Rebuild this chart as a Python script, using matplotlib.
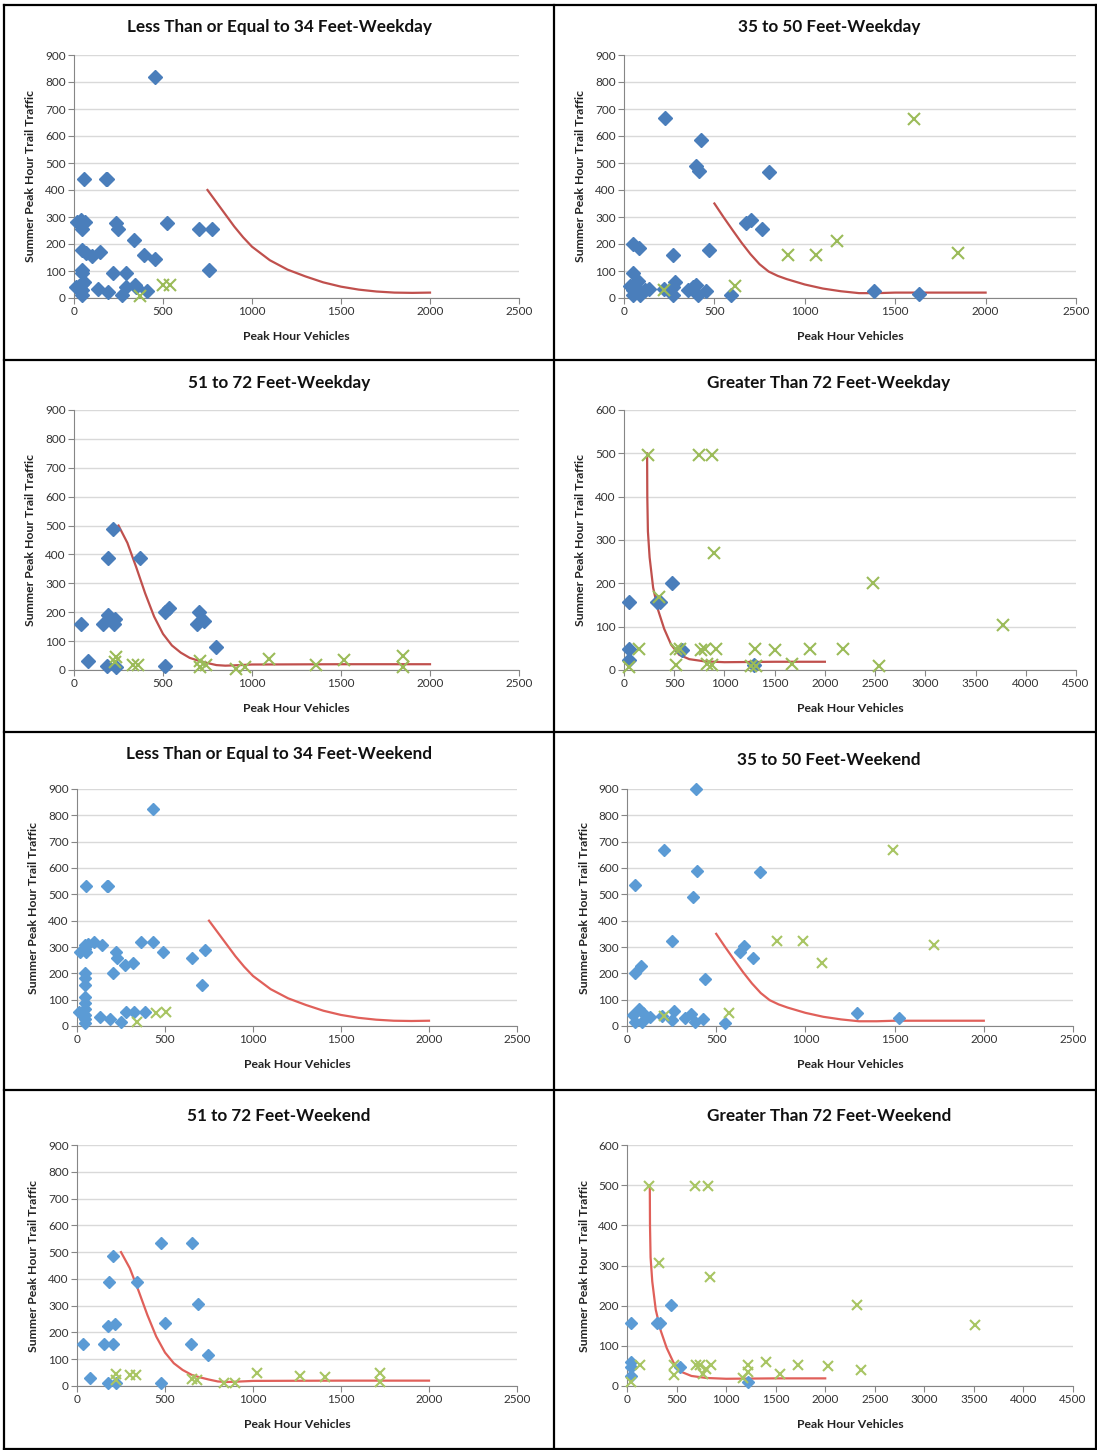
#!/usr/bin/env python3
"""
Eight scatter panels: summer peak hour trail traffic vs peak hour vehicles,
split by road width class (weekday on top, weekend below). Blue diamonds and
green crosses are the two observation groups, red line the threshold curve.
"""

import matplotlib.pyplot as plt
from matplotlib.lines import Line2D

# ---------------------------------------------------------------------------
# Data
# ---------------------------------------------------------------------------

TITLES = [
    'Less Than or Equal to 34 Feet-Weekday', '35 to 50 Feet-Weekday',
    '51 to 72 Feet-Weekday', 'Greater Than 72 Feet-Weekday',
    'Less Than or Equal to 34 Feet-Weekend', '35 to 50 Feet-Weekend',
    '51 to 72 Feet-Weekend', 'Greater Than 72 Feet-Weekend',
]

# threshold curves (shared by weekday / weekend of the same width class)
curve_34_x = [750, 800, 850, 900, 950, 1000, 1100, 1200, 1300, 1400, 1500,
              1600, 1700, 1800, 1900, 2000]
curve_34_y = [400, 355, 310, 265, 225, 190, 140, 105, 80, 58, 42, 31, 24,
              20, 19, 20]
curve_50_x = [500, 550, 600, 650, 700, 750, 800, 850, 900, 950, 1000, 1100,
              1200, 1300, 1400, 1500, 2000]
curve_50_y = [350, 300, 252, 205, 162, 125, 98, 82, 70, 60, 50, 35, 25, 18,
              18, 20, 20]
curve_72_x = [250, 300, 350, 400, 450, 500, 550, 600, 650, 700, 750, 800,
              850, 900, 1000, 1500, 2000]
curve_72_y = [500, 440, 355, 265, 185, 125, 85, 60, 42, 32, 24, 17, 15, 16,
              19, 20, 20]
curve_gt_x = [230, 232, 238, 255, 290, 340, 400, 470, 550, 650, 800, 1000,
              1500, 2000]
curve_gt_y = [500, 400, 320, 260, 190, 138, 95, 58, 35, 25, 20, 18, 19, 19]

# --- weekday ---------------------------------------------------------------
wd34_blue_x = [457, 54, 178, 185, 17, 41, 62, 43, 236, 245, 521, 701, 778,
               339, 392, 455, 148, 43, 69, 101, 759, 43, 43, 219, 294, 9, 43,
               43, 43, 133, 193, 270, 294, 341, 350, 412, 30, 55]
wd34_blue_y = [820, 441, 441, 441, 280, 290, 280, 256, 279, 256, 278, 256,
               254, 214, 158, 144, 169, 179, 167, 154, 105, 102, 94, 94, 93,
               41, 53, 28, 10, 35, 23, 10, 41, 47, 41, 26, 45, 60]
wd34_green_x = [369, 500, 538]
wd34_green_y = [6, 47, 47]

wd50_blue_x = [225, 427, 400, 415, 803, 674, 705, 763, 48, 85, 273, 471, 50,
               31, 59, 78, 50, 50, 87, 96, 114, 138, 222, 271, 280, 271, 354,
               382, 397, 410, 456, 591, 1383, 1632]
wd50_blue_y = [665, 584, 488, 472, 468, 278, 288, 256, 200, 185, 158, 179,
               94, 44, 56, 63, 28, 10, 10, 22, 28, 35, 35, 41, 59, 12, 28, 41,
               47, 10, 25, 10, 26, 16]
wd50_green_x = [1606, 908, 1060, 1176, 1850, 222, 613]
wd50_green_y = [664, 158, 158, 211, 168, 31, 44]

wd72_blue_x = [219, 191, 369, 191, 163, 223, 229, 37, 79, 186, 234, 510, 532,
               701, 693, 729, 800, 513]
wd72_blue_y = [488, 389, 389, 190, 158, 158, 176, 158, 30, 14, 10, 200, 214,
               200, 158, 170, 78, 13]
wd72_green_x = [238, 229, 332, 360, 707, 707, 744, 909, 960, 1096, 1362,
                1516, 1850, 1850]
wd72_green_y = [45, 28, 16, 16, 31, 10, 16, 5, 10, 39, 16, 34, 47, 10]

wdgt_blue_x = [50, 50, 50, 329, 362, 479, 578, 1296]
wdgt_blue_y = [157, 49, 24, 157, 156, 201, 47, 12]
wdgt_green_x = [239, 744, 881, 897, 2482, 3772, 349, 146, 50, 515, 515, 555,
                771, 804, 920, 827, 881, 1303, 1269, 1319, 1502, 1668, 1851,
                2177, 2539]
wdgt_green_y = [497, 497, 497, 269, 201, 105, 169, 49, 8, 49, 11, 49, 47, 49,
                49, 15, 11, 49, 9, 9, 47, 15, 49, 49, 9]

# --- weekend ---------------------------------------------------------------
we34_blue_x = [429, 53, 170, 178, 19, 44, 44, 63, 95, 142, 53, 224, 230, 275,
               319, 366, 429, 486, 656, 728, 709, 205, 44, 44, 44, 44, 44, 9,
               44, 44, 44, 44, 129, 186, 250, 277, 324, 387]
we34_blue_y = [823, 531, 531, 531, 281, 294, 309, 313, 320, 308, 281, 281,
               259, 231, 238, 320, 320, 281, 259, 290, 155, 203, 203, 183,
               155, 112, 89, 53, 66, 43, 28, 13, 35, 27, 16, 52, 52, 52]
we34_green_x = [341, 451, 503]
we34_green_y = [15, 48, 52]

we50_blue_x = [385, 208, 395, 745, 47, 371, 253, 632, 657, 707, 47, 77, 436,
               1287, 1523, 552, 34, 65, 47, 90, 127, 86, 198, 254, 262, 327,
               361, 380, 427]
we50_blue_y = [900, 667, 587, 584, 534, 489, 322, 281, 305, 259, 202, 227,
               180, 51, 30, 13, 41, 63, 15, 51, 35, 15, 38, 22, 58, 30, 47,
               15, 28]
we50_green_x = [1490, 842, 988, 1095, 1723, 206, 571]
we50_green_y = [667, 322, 322, 240, 307, 38, 51]

we72_blue_x = [207, 480, 656, 180, 343, 685, 499, 178, 214, 36, 152, 207,
               649, 744, 72, 175, 220, 480]
we72_blue_y = [487, 534, 534, 389, 389, 305, 236, 224, 231, 157, 157, 157,
               157, 115, 31, 12, 12, 12]
we72_green_x = [220, 220, 303, 338, 656, 679, 837, 897, 1024, 1267, 1409,
                1722, 1722]
we72_green_y = [46, 21, 40, 40, 27, 21, 12, 12, 50, 37, 34, 50, 15]

wegt_blue_x = [37, 303, 337, 448, 37, 37, 37, 532, 1216]
wegt_blue_y = [158, 158, 158, 201, 60, 47, 25, 47, 10]
wegt_green_x = [222, 684, 818, 323, 842, 2317, 3513, 128, 37, 472, 475, 694,
                741, 768, 802, 852, 1172, 1216, 1216, 1398, 1543, 1728, 2024,
                2358]
wegt_green_y = [498, 498, 498, 307, 272, 201, 153, 52, 10, 52, 27, 52, 52,
                31, 43, 52, 20, 52, 35, 60, 31, 52, 50, 39]

# ---------------------------------------------------------------------------
# Layout / style
# ---------------------------------------------------------------------------

W, H = 1097, 1450
FONT = ['Lato', 'DejaVu Sans']

# axes boxes in pixels: left, top, right, bottom
BOXES = [
    (74, 55, 519, 298), (624, 55, 1076, 298),
    (74, 410, 519, 670), (624, 410, 1076, 670),
    (77, 789, 517, 1026), (627, 789, 1073, 1026),
    (77, 1145, 517, 1386), (627, 1145, 1073, 1386),
]
TITLE_Y = [27, 27, 383, 383, 754, 760, 1116, 1116]
XLABEL_Y = [336, 336, 708, 708, 1064, 1064, 1424, 1424]
YLABEL_X = [31, 581, 31, 581, 34, 584, 34, 584]

# weekday charts use the darker office palette, weekend the lighter one
WD_COLORS = dict(blue='#4A7EBB', green='#9BBB59', red='#C0504D')
WE_COLORS = dict(blue='#5B9BD5', green='#A8C563', red='#E0605A')


def px_box(box):
    l, t, r, b = box
    return [l / W, 1 - b / H, (r - l) / W, (b - t) / H]


def draw_panel(fig, i, blue, green, curve, xmax, ymax, colors, ms):
    ax = fig.add_axes(px_box(BOXES[i]))
    ax.plot(curve[0], curve[1], color=colors['red'], lw=1.6, zorder=2)
    ax.plot(blue[0], blue[1], linestyle='None', marker='D', ms=ms,
            color=colors['blue'], mec=colors['blue'], zorder=3,
            clip_on=False)
    ax.plot(green[0], green[1], linestyle='None', marker='x', ms=ms + 1,
            mew=1.5, color=colors['green'], zorder=3, clip_on=False)

    ax.set_xlim(0, xmax)
    ax.set_ylim(0, ymax)
    ax.set_xticks(range(0, xmax + 1, 500))
    ax.set_yticks(range(0, ymax + 1, 100))
    ax.grid(axis='y', color='#D9D9D9', lw=1)
    ax.set_axisbelow(True)
    for side in ('top', 'right'):
        ax.spines[side].set_visible(False)
    for side in ('left', 'bottom'):
        ax.spines[side].set_color('#868686')
    ax.tick_params(direction='out', length=4, color='#868686',
                   labelsize=8.5, labelcolor='#333333', pad=2)
    for lab in ax.get_xticklabels() + ax.get_yticklabels():
        lab.set_family(FONT)

    l, t, r, b = BOXES[i]
    cx = 279 if i % 2 == 0 else 829
    fig.text(cx / W, 1 - TITLE_Y[i] / H, TITLES[i], ha='center', va='center',
             fontsize=12.3, fontweight='bold', family=FONT, color='#111111')
    fig.text((l + r) / 2 / W, 1 - XLABEL_Y[i] / H, 'Peak Hour Vehicles',
             ha='center', va='center', fontsize=8.8, fontweight='bold',
             family=FONT, color='#222222')
    fig.text(YLABEL_X[i] / W, 1 - (t + b) / 2 / H,
             'Summer Peak Hour Trail Traffic', ha='center', va='center',
             rotation=90, fontsize=8.8, fontweight='bold', family=FONT,
             color='#222222')
    return ax


def main():
    fig = plt.figure(figsize=(W / 100, H / 100), dpi=100)

    panels = [
        ((wd34_blue_x, wd34_blue_y), (wd34_green_x, wd34_green_y),
         (curve_34_x, curve_34_y), 2500, 900),
        ((wd50_blue_x, wd50_blue_y), (wd50_green_x, wd50_green_y),
         (curve_50_x, curve_50_y), 2500, 900),
        ((wd72_blue_x, wd72_blue_y), (wd72_green_x, wd72_green_y),
         (curve_72_x, curve_72_y), 2500, 900),
        ((wdgt_blue_x, wdgt_blue_y), (wdgt_green_x, wdgt_green_y),
         (curve_gt_x, curve_gt_y), 4500, 600),
        ((we34_blue_x, we34_blue_y), (we34_green_x, we34_green_y),
         (curve_34_x, curve_34_y), 2500, 900),
        ((we50_blue_x, we50_blue_y), (we50_green_x, we50_green_y),
         (curve_50_x, curve_50_y), 2500, 900),
        ((we72_blue_x, we72_blue_y), (we72_green_x, we72_green_y),
         (curve_72_x, curve_72_y), 2500, 900),
        ((wegt_blue_x, wegt_blue_y), (wegt_green_x, wegt_green_y),
         (curve_gt_x, curve_gt_y), 4500, 600),
    ]
    for i, (blue, green, curve, xmax, ymax) in enumerate(panels):
        colors = WD_COLORS if i < 4 else WE_COLORS
        ms = 7 if i < 4 else 6.3
        draw_panel(fig, i, blue, green, curve, xmax, ymax, colors, ms)

    # ---- black cell borders ----------------------------------------------
    def hline(y, x0=4, x1=W):
        fig.add_artist(Line2D([x0 / W, x1 / W], [1 - y / H, 1 - y / H],
                              color='black', lw=1.6))

    def vline(x, y0=5, y1=H):
        fig.add_artist(Line2D([x / W, x / W], [1 - y0 / H, 1 - y1 / H],
                              color='black', lw=1.6))

    for y in (5, 360, 732, 1090, 1449):
        hline(y)
    for x in (4, 554, 1096):
        vline(x)

    fig.savefig('out.png', dpi=100)


if __name__ == '__main__':
    main()
